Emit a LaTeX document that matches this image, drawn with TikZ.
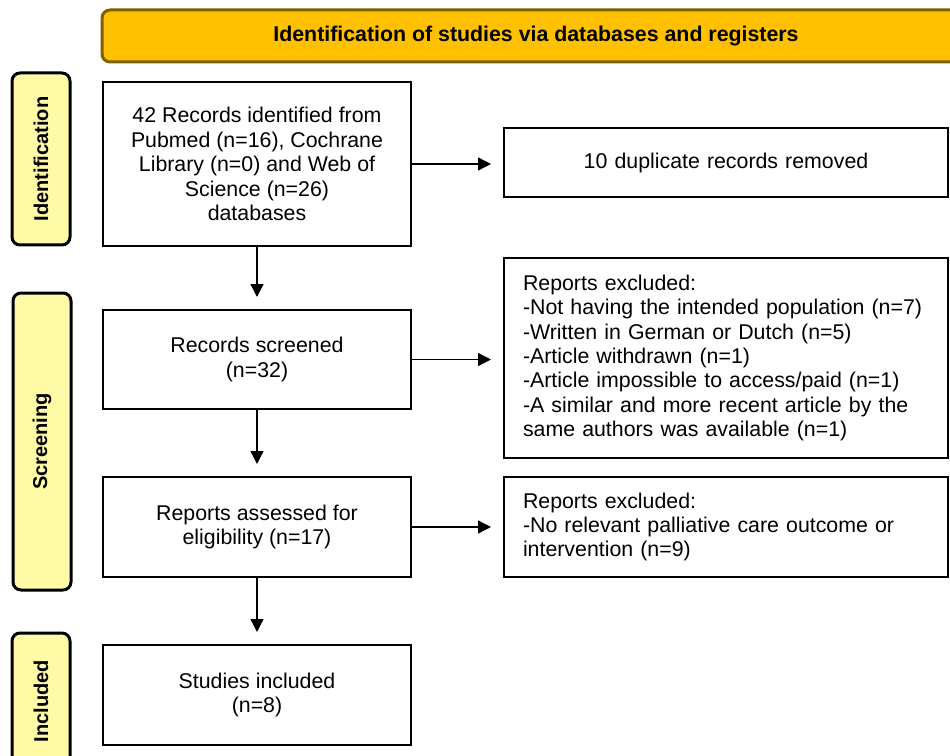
\documentclass[tikz,border=0pt]{standalone}
\usepackage{fontspec}
\setmainfont{Liberation Sans}
\usetikzlibrary{arrows.meta}
\definecolor{bannerfill}{RGB}{255,192,0}
\definecolor{bannerdraw}{RGB}{128,96,0}
\definecolor{sidefill}{RGB}{255,250,165}
\begin{document}
\begin{tikzpicture}[x=0.75pt,y=-0.75pt,
  box/.style={draw,line width=1.5pt,fill=white,inner sep=0pt,
    font=\fontsize{16}{18.3}\selectfont,align=center,minimum width=231pt},
  rbox/.style={draw,line width=1.5pt,fill=white,inner ysep=0pt,inner xsep=14.25pt,
    font=\fontsize{16}{18.3}\selectfont,align=left,minimum width=333pt,text width=304.5pt},
  side/.style={draw,line width=2.25pt,rounded corners=6pt,fill=sidefill,rotate=90,
    font=\fontsize{15}{18}\selectfont\bfseries,minimum height=43.5pt,inner sep=0pt},
  banner/.style={draw=bannerdraw,line width=2.25pt,rounded corners=6pt,fill=bannerfill,
    font=\fontsize{16}{18}\selectfont\bfseries,minimum width=651pt,minimum height=39pt},
  arr/.style={line width=1pt,-{Triangle[length=9.75pt,width=9.75pt]},shorten >=9pt}]
\useasboundingbox (0,0) rectangle (950,756);
\clip (0,0) rectangle (950,756);
\node[banner] (ban) at (536,36) {Identification of studies via databases and registers};
\node[side,minimum width=129pt] (sid) at (41,159) {Identification};
\node[side,minimum width=222.75pt] (sscr) at (42,441.5) {Screening};
\node[side,minimum width=102pt] (sinc) at (41,701) {Included};
\node[box,minimum height=123pt] (rec) at (257,164) {42 Records identified from\\Pubmed (n=16), Cochrane\\Library (n=0) and Web of\\Science (n=26)\\databases};
\node[rbox,minimum height=51.75pt,align=center] (dup) at (726,162.5) {10 duplicate records removed};
\node[box,minimum height=74.25pt] (scr) at (257,359.5) {Records screened\\(n=32)};
\node[rbox,minimum height=150pt] (ex1) at (726,358) {Reports excluded:\\-Not having the intended population (n=7)\\-Written in German or Dutch (n=5)\\-Article withdrawn (n=1)\\-Article impossible to access/paid (n=1)\\-A similar and more recent article by the\\same authors was available (n=1)};
\node[box,minimum height=75pt] (ass) at (257,527) {Reports assessed for\\eligibility (n=17)};
\node[rbox,minimum height=75pt] (ex2) at (726,527) {Reports excluded:\\-No relevant palliative care outcome or\\intervention (n=9)};
\node[box,minimum height=75pt] (inc) at (257,695) {Studies included\\(n=8)};
\draw[arr] (rec.east) -- (rec.east -| dup.west);
\draw[arr] (scr.east) -- (scr.east -| ex1.west);
\draw[arr] (ass.east) -- (ass.east -| ex2.west);
\draw[arr] (rec.south) -- (scr.north);
\draw[arr] (scr.south) -- (ass.north);
\draw[arr] (ass.south) -- (inc.north);
\end{tikzpicture}
\end{document}
